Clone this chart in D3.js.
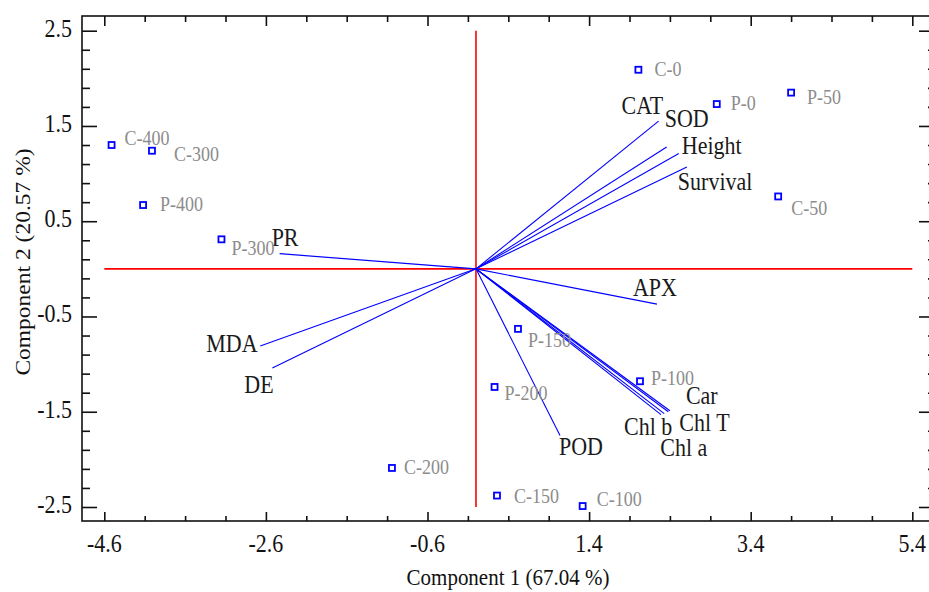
<!DOCTYPE html>
<html>
<head>
<meta charset="utf-8">
<script src="https://cdn.jsdelivr.net/npm/d3@7"></script>
<style>
  body { margin: 0; background: #fff; }
  text { font-family: 'Liberation Serif', 'DejaVu Serif', serif; }
</style>
</head>
<body>
<div id="chart"></div>
<script>
// observations (scores)
const obsNames = ['C-0', 'P-0', 'P-50', 'C-50', 'C-400', 'C-300', 'P-400', 'P-300', 'P-150', 'P-200', 'P-100', 'C-150', 'C-100', 'C-200'];
const obsPC1 = [2.01, 2.98, 3.90, 3.74, -4.51, -4.01, -4.12, -3.15, 0.52, 0.23, 2.03, 0.26, 1.32, -1.04];
const obsPC2 = [2.09, 1.73, 1.85, 0.76, 1.30, 1.24, 0.67, 0.31, -0.63, -1.24, -1.18, -2.38, -2.49, -2.09];

// variables (loadings vectors)
const varNames = ['CAT', 'SOD', 'Height', 'Survival', 'PR', 'MDA', 'DE', 'APX', 'POD', 'Car', 'Chl T', 'Chl a', 'Chl b'];
const varPC1 = [2.26, 2.36, 2.51, 2.61, -2.43, -2.67, -2.52, 2.24, 1.04, 2.40, 2.38, 2.33, 2.29];
const varPC2 = [1.55, 1.28, 1.21, 1.07, 0.16, -0.81, -1.04, -0.37, -1.75, -1.49, -1.50, -1.52, -1.53];

const xTicks = [-4.6, -2.6, -0.6, 1.4, 3.4, 5.4];
const yTicks = [-2.5, -1.5, -0.5, 0.5, 1.5, 2.5];
const xMinor = [-4.1, -3.6, -3.1, -2.1, -1.6, -1.1, -0.1, 0.4, 0.9, 1.9, 2.4, 2.9, 3.9, 4.4, 4.9];
const yMinor = [-2.3, -2.1, -1.9, -1.7, -1.3, -1.1, -0.9, -0.7, -0.3, -0.1, 0.1, 0.3, 0.7, 0.9, 1.1, 1.3, 1.7, 1.9, 2.1, 2.3];

const xTitle = 'Component 1 (67.04 %)';
const yTitle = 'Component 2 (20.57 %)';

// label nudges in pixels (layout only)
const obsNudge = {
  'C-0': [16, 6], 'P-0': [14, 6], 'P-50': [16, 11], 'C-50': [13, 19],
  'C-400': [13, 0], 'C-300': [22, 10], 'P-400': [17, 6], 'P-300': [10, 16],
  'P-150': [10, 18], 'P-200': [10, 13], 'P-100': [11, 4], 'C-150': [17, 7],
  'C-100': [14, 0], 'C-200': [12, 6]
};
const varNudge = {
  'CAT': [-37, -7], 'SOD': [-2, -20], 'Height': [3, 0], 'Survival': [-9, 23],
  'PR': [-8, -8], 'MDA': [-54, 6], 'DE': [-28, 25], 'APX': [-24, -8],
  'POD': [-1, 19], 'Car': [16, -7], 'Chl T': [11, 19], 'Chl a': [-4, 42], 'Chl b': [-37, 20]
};

const W = 929, H = 592;
const frame = { left: 82, top: 16, right: 934, bottom: 521 };

const xScale = d3.scaleLinear().domain([-4.6, 5.4]).range([104.3, 912.3]);
const yScale = d3.scaleLinear().domain([-2.5, 2.5]).range([507, 30.7]);

const svg = d3.select('#chart').append('svg')
  .attr('width', W)
  .attr('height', H);

// helper: serif text a bit taller than wide, like the original
function label(x, y, str, size, color, anchor) {
  return svg.append('text')
    .attr('transform', `translate(${x},${y}) scale(1,1.12)`)
    .attr('text-anchor', anchor || 'start')
    .style('font-size', size + 'px')
    .attr('fill', color)
    .text(str);
}

// frame
svg.append('rect')
  .attr('x', frame.left)
  .attr('y', frame.top)
  .attr('width', frame.right - frame.left)
  .attr('height', frame.bottom - frame.top)
  .attr('fill', 'none')
  .attr('stroke', '#111')
  .attr('stroke-width', 1.6);

// axes with inward ticks on all four sides
function addAxis(axis, transform) {
  const g = svg.append('g').attr('transform', transform).call(axis);
  g.select('.domain').remove();
  g.selectAll('.tick line').attr('stroke', '#111').attr('stroke-width', 1.6);
  g.selectAll('.tick text').remove();
  return g;
}
addAxis(d3.axisBottom(xScale).tickValues(xTicks).tickSize(-9), `translate(0,${frame.bottom})`);
addAxis(d3.axisBottom(xScale).tickValues(xMinor).tickSize(-5), `translate(0,${frame.bottom})`);
addAxis(d3.axisTop(xScale).tickValues(xTicks).tickSize(-10), `translate(0,${frame.top})`);
addAxis(d3.axisTop(xScale).tickValues(xMinor).tickSize(-6), `translate(0,${frame.top})`);
addAxis(d3.axisLeft(yScale).tickValues(yTicks).tickSize(-15), `translate(${frame.left},0)`);
addAxis(d3.axisLeft(yScale).tickValues(yMinor).tickSize(-8), `translate(${frame.left},0)`);
addAxis(d3.axisRight(yScale).tickValues(yTicks).tickSize(-15), `translate(${frame.right},0)`);
addAxis(d3.axisRight(yScale).tickValues(yMinor).tickSize(-6), `translate(${frame.right},0)`);

// tick labels
xTicks.forEach((v) => label(xScale(v), 552, v.toFixed(1), 22, '#111', 'middle'));
yTicks.forEach((v) => label(72, yScale(v) + 6, v.toFixed(1), 22, '#111', 'end'));

// axis titles
label(508, 585, xTitle, 21, '#111', 'middle');
svg.append('text')
  .attr('transform', `translate(30,262) rotate(-90) scale(1.12,1)`)
  .attr('text-anchor', 'middle')
  .style('font-size', '21px')
  .attr('fill', '#111')
  .text(yTitle);

// red reference cross
svg.append('line')
  .attr('x1', xScale(-4.6)).attr('x2', xScale(5.4))
  .attr('y1', yScale(0)).attr('y2', yScale(0))
  .attr('stroke', '#ff0000').attr('stroke-width', 1.6);
svg.append('line')
  .attr('x1', xScale(0)).attr('x2', xScale(0))
  .attr('y1', yScale(2.5)).attr('y2', yScale(-2.5))
  .attr('stroke', '#ff0000').attr('stroke-width', 1.6);

// loading vectors
varNames.forEach((name, i) => {
  svg.append('line')
    .attr('x1', xScale(0)).attr('y1', yScale(0))
    .attr('x2', xScale(varPC1[i])).attr('y2', yScale(varPC2[i]))
    .attr('stroke', '#0000ff')
    .attr('stroke-width', 1.1);
});
varNames.forEach((name, i) => {
  const n = varNudge[name];
  label(xScale(varPC1[i]) + n[0], yScale(varPC2[i]) + n[1], name, 22, '#1a1a1a');
});

// observation markers
obsNames.forEach((name, i) => {
  svg.append('rect')
    .attr('x', xScale(obsPC1[i]) - 3)
    .attr('y', yScale(obsPC2[i]) - 3)
    .attr('width', 6)
    .attr('height', 6)
    .attr('fill', '#fff')
    .attr('stroke', '#0000ff')
    .attr('stroke-width', 1.8);
  const n = obsNudge[name];
  label(xScale(obsPC1[i]) + n[0], yScale(obsPC2[i]) + n[1], name, 18, '#8c8c8c');
});
</script>
</body>
</html>
